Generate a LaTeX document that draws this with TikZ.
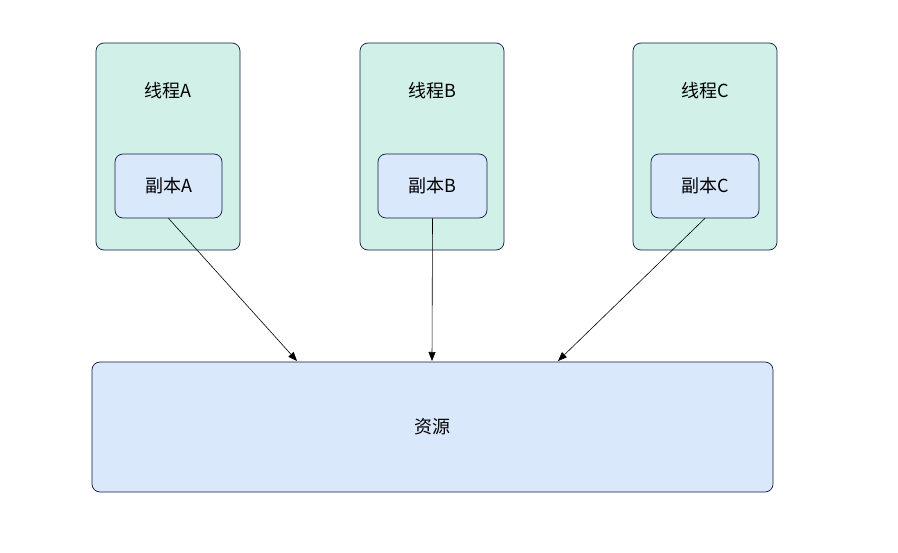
\documentclass[tikz,border=0pt]{standalone}
\usepackage{fontspec}
\setmainfont{Noto Sans CJK SC}
\usetikzlibrary{arrows.meta}
\definecolor{thrfill}{HTML}{D1F0E8}
\definecolor{cpyfill}{HTML}{DAE8FC}
\definecolor{edge}{HTML}{0F1A45}
\begin{document}
\begin{tikzpicture}[x=1bp,y=-1bp,
  box/.style={draw=edge,line width=0.7bp,rounded corners=8bp},
  thr/.style={box,fill=thrfill},
  cpy/.style={box,fill=cpyfill},
  lbl/.style={font=\fontsize{18bp}{21bp}\selectfont,text=black,inner sep=0},
  conn/.style={draw=black,line width=0.6bp,-{Triangle[length=9bp,width=7bp]}}]
\useasboundingbox (0,0) rectangle (898,553);
% threads
\node[thr,minimum width=144bp,minimum height=207bp] (tA) at (168,146.5) {};
\node[thr,minimum width=144bp,minimum height=207bp] (tB) at (432,146.5) {};
\node[thr,minimum width=144bp,minimum height=207bp] (tC) at (705,146.5) {};
\node[lbl] (lA) at (168,91) {线程A};
\node[lbl] (lB) at (432,91) {线程B};
\node[lbl] (lC) at (705,91) {线程C};
% copies
\node[cpy,minimum width=107bp,minimum height=64bp] (cA) at (168.5,186) {};
\node[cpy,minimum width=109bp,minimum height=64bp] (cB) at (432.5,186) {};
\node[cpy,minimum width=108bp,minimum height=64bp] (cC) at (705,186) {};
\node[lbl] at (cA) {副本A};
\node[lbl] at (cB) {副本B};
\node[lbl] at (cC) {副本C};
% resource
\node[cpy,minimum width=681bp,minimum height=130bp] (res) at (432.5,427) {};
\node[lbl] at (res) {资源};
% anchors on resource top
\coordinate (rA) at (297,361);
\coordinate (rB) at (432,361);
\coordinate (rC) at (558,361);
\draw[conn] (cA.south) -- (rA);
\draw[conn] (cB.south) -- (rB);
\draw[conn] (cC.south) -- (rC);
\end{tikzpicture}
\end{document}
